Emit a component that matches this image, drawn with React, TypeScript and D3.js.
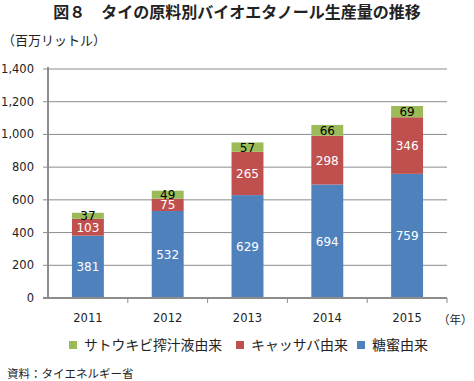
import React from "react";
import * as d3 from "d3";

const years = ["2011", "2012", "2013", "2014", "2015"];
const molasses = [381, 532, 629, 694, 759];
const cassava = [103, 75, 265, 298, 346];
const sugarcane = [37, 49, 57, 66, 69];
const yTicks = [0, 200, 400, 600, 800, 1000, 1200, 1400];
const seriesNames = ["サトウキビ搾汁液由来", "キャッサバ由来", "糖蜜由来"];
const colors = { sugarcane: "#9BBB59", cassava: "#C0504D", molasses: "#4F81BD" };

const W = 474, H = 381;
const left = 48, right = 447, top = 69, bottom = 298;
const font = "'Noto Sans CJK JP', 'Noto Sans', sans-serif";
const numFont = "'DejaVu Sans', sans-serif";

export default function App() {
  const x = d3.scaleBand().domain(years).range([left, right]).paddingInner(0.6).paddingOuter(0.3);
  const xb = d3.scaleBand().domain(years).range([left, right]);
  const y = d3.scaleLinear().domain([0, 1400]).range([bottom, top]);
  const fmt = d3.format(",");

  const stacks = years.map((yr, i) => {
    const segs = [
      { key: "molasses", v: molasses[i], c: colors.molasses, tc: "#fff" },
      { key: "cassava", v: cassava[i], c: colors.cassava, tc: "#fff" },
      { key: "sugarcane", v: sugarcane[i], c: colors.sugarcane, tc: "#000" },
    ];
    let acc = 0;
    return segs.map((s) => {
      const y0 = acc;
      acc += s.v;
      return { ...s, y0, y1: acc, yr };
    });
  });

  const legendItems = [
    { name: seriesNames[0], c: colors.sugarcane, x: 69, w: 138 },
    { name: seriesNames[1], c: colors.cassava, x: 236, w: 97 },
    { name: seriesNames[2], c: colors.molasses, x: 357, w: 56 },
  ];

  return (
    <svg width={W} height={H} style={{ position: "absolute", left: 0, top: 0, background: "#fff" }} fontFamily={font}>
      <rect width={W} height={H} fill="#fff" />
      <text x={237} y={18} textAnchor="middle" fontSize={16} fontWeight="bold" fill="#222">図８　タイの原料別バイオエタノール生産量の推移</text>
      <text x={2} y={45} fontSize={13} fill="#222">（百万リットル）</text>
      {yTicks.map((t) => (
        <g key={t}>
          {t > 0 && <line x1={left} x2={right} y1={y(t)} y2={y(t)} stroke="#8c8c8c" strokeWidth={1} />}
          <line x1={left - 5} x2={left} y1={y(t)} y2={y(t)} stroke="#8c8c8c" strokeWidth={1} />
          <text x={34} y={y(t) + 4} textAnchor="end" fontSize={11.5} fill="#222" fontFamily={numFont}>{fmt(t)}</text>
        </g>
      ))}
      {stacks.map((segs) =>
        segs.map((s) => (
          <rect key={s.yr + s.key} x={x(s.yr)} width={x.bandwidth()} y={y(s.y1)} height={y(s.y0) - y(s.y1)} fill={s.c} />
        ))
      )}
      {stacks.map((segs) =>
        segs.map((s) => (
          <text key={"l" + s.yr + s.key} x={(x(s.yr) as number) + x.bandwidth() / 2} y={(y(s.y0) + y(s.y1)) / 2 + 4.5}
            textAnchor="middle" fontSize={12} fill={s.tc} fontFamily={numFont}>{s.v}</text>
        ))
      )}
      <line x1={left} x2={left} y1={top - 2} y2={bottom} stroke="#8c8c8c" strokeWidth={2} />
      <line x1={left - 5} x2={right} y1={bottom} y2={bottom} stroke="#8c8c8c" strokeWidth={2} />
      {years.map((yr) => (
        <line key={"t" + yr} x1={(xb(yr) as number) + xb.bandwidth()} x2={(xb(yr) as number) + xb.bandwidth()} y1={bottom} y2={bottom + 5} stroke="#8c8c8c" strokeWidth={1} />
      ))}
      {years.map((yr) => (
        <text key={"x" + yr} x={(x(yr) as number) + x.bandwidth() / 2} y={322} textAnchor="middle" fontSize={11.5} fill="#222" fontFamily={numFont}>{yr}</text>
      ))}
      <text x={438} y={324} fontSize={11.5} fill="#222">（年）</text>
      {legendItems.map((l) => (
        <g key={l.name}>
          <rect x={l.x} y={341} width={8} height={8} fill={l.c} />
          <text x={l.x + 15} y={350} fontSize={13.5} fill="#222" textLength={l.w} lengthAdjust="spacingAndGlyphs">{l.name}</text>
        </g>
      ))}
      <text x={7} y={378} fontSize={11.5} fill="#222">資料：タイエネルギー省</text>
    </svg>
  );
}
